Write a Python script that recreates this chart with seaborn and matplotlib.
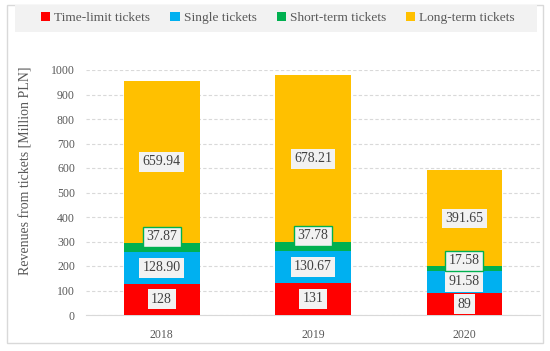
import numpy as np
import pandas as pd
import matplotlib
matplotlib.use("Agg")
import matplotlib.pyplot as plt
from matplotlib.patches import Rectangle, Patch
import seaborn as sns

years = ["2018", "2019", "2020"]
series_names = ["Time-limit tickets", "Single tickets", "Short-term tickets", "Long-term tickets"]
time_limit = [128, 131, 89]
single = [128.90, 130.67, 91.58]
short_term = [37.87, 37.78, 17.58]
long_term = [659.94, 678.21, 391.65]
colors = ["#ff0000", "#00b0f0", "#00b050", "#ffc000"]
y_ticks = list(range(0, 1001, 100))

sns.set_style("white")
plt.rcParams['font.family'] = ['Liberation Serif', 'DejaVu Serif']

fig = plt.figure(figsize=(5.5, 3.51), dpi=100)
ax = fig.add_axes([86 / 550, 1 - 315 / 351, 454 / 550, 245 / 351])

# outer frame + legend background
fig.patches.append(Rectangle((7 / 550, 1 - 343 / 351), 536 / 550, 338 / 351,
                             transform=fig.transFigure, facecolor="none",
                             edgecolor="#d9d9d9", lw=1, zorder=0))
fig.patches.append(Rectangle((15 / 550, 1 - 32 / 351), 522 / 550, 27 / 351,
                             transform=fig.transFigure, facecolor="#f2f2f2",
                             edgecolor="none", zorder=0))

data = pd.DataFrame({"year": years, "t": time_limit, "s": single,
                     "sh": short_term, "l": long_term})
data["c1"] = data["t"]
data["c2"] = data["c1"] + data["s"]
data["c3"] = data["c2"] + data["sh"]
data["c4"] = data["c3"] + data["l"]

# stacked: draw tallest first
for col, color in zip(["c4", "c3", "c2", "c1"], colors[::-1]):
    sns.barplot(data=data, x="year", y=col, color=color, width=0.5,
                saturation=1, ax=ax, zorder=3, edgecolor="none")

box = dict(boxstyle="square,pad=0.25", facecolor="#f2f2f2", edgecolor="none")
box_green = dict(boxstyle="square,pad=0.25", facecolor="#f2f2f2", edgecolor="#00b050", lw=1)
txt = dict(ha="center", va="center", fontsize=10, color="#404040", zorder=5)
for i in range(len(years)):
    ax.text(i, data["c1"][i] / 2, f"{time_limit[i]}", bbox=box, **txt)
    ax.text(i, data["c1"][i] + single[i] / 2, f"{single[i]:.2f}", bbox=box, **txt)
    ax.text(i, data["c3"][i] + 24, f"{short_term[i]:.2f}", bbox=box_green, **txt)
    ax.text(i, data["c3"][i] + long_term[i] / 2, f"{long_term[i]:.2f}", bbox=box, **txt)

ax.set_ylim(0, 1000)
ax.set_xlim(-0.5, 2.5)
ax.set_yticks(y_ticks)
ax.yaxis.grid(True, linestyle=(0, (3, 2)), color="#d9d9d9", lw=0.8, zorder=0)
ax.set_axisbelow(True)
for s in ["top", "right", "left"]:
    ax.spines[s].set_visible(False)
ax.spines["bottom"].set_color("#d9d9d9")
ax.tick_params(axis="both", length=0, labelsize=8.5, colors="#595959", pad=8)
ax.tick_params(axis="x", pad=10)
ax.set_xlabel("")
ax.set_ylabel("")
fig.text(26 / 550, 1 - 171 / 351, "Revenues from tickets [Million PLN]", rotation=90,
         ha="center", va="center", fontsize=10, color="#595959")

handles = [Patch(facecolor=c, edgecolor="none") for c in colors]
fig.legend(handles, series_names, loc="center", bbox_to_anchor=(278 / 550, 1 - 18 / 351),
           ncol=4, frameon=False, fontsize=9.6, handlelength=0.7, handleheight=0.7,
           handletextpad=0.3, columnspacing=1.5, labelcolor="#595959")

fig.savefig("out.png", dpi=100)
